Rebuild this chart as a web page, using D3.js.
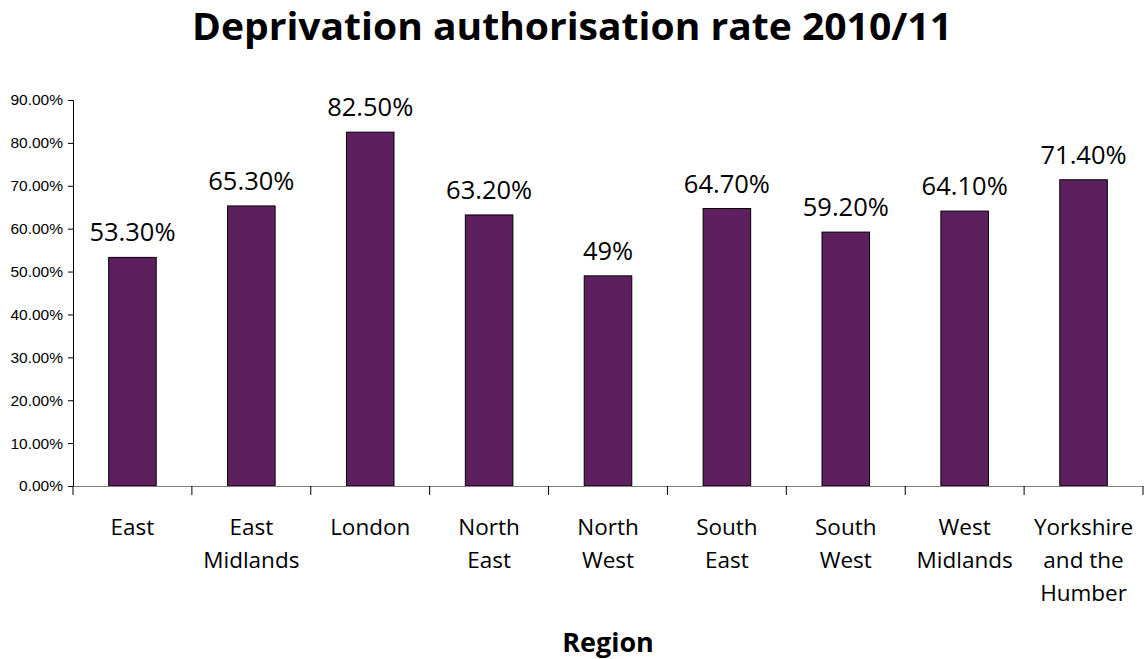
<!DOCTYPE html>
<html><head><meta charset="utf-8">
<script src="https://cdn.jsdelivr.net/npm/d3@7/dist/d3.min.js"></script>
<style>body{margin:0;background:#fff}svg{display:block}</style>
</head><body>
<svg id="c" width="1145" height="659"></svg>
<script>
const categories = [["East"],["East","Midlands"],["London"],["North","East"],["North","West"],["South","East"],["South","West"],["West","Midlands"],["Yorkshire","and the","Humber"]];
const values = [53.3, 65.3, 82.5, 63.2, 49, 64.7, 59.2, 64.1, 71.4];
const valueLabels = ["53.30%","65.30%","82.50%","63.20%","49%","64.70%","59.20%","64.10%","71.40%"];
const yTicks = [0,10,20,30,40,50,60,70,80,90];
const title = "Deprivation authorisation rate 2010/11";
const xTitle = "Region";

const svg = d3.select("#c");
const pL = 73, pR = 1143, pT = 100, pB = 486;
const keys = categories.map((d,i)=>i);
const x = d3.scaleBand().domain(keys).range([pL,pR]).paddingInner(0.6).paddingOuter(0.3);
const y = d3.scaleLinear().domain([0,90]).range([pB,pT]);

// y axis
const ya = svg.append("g").attr("transform",`translate(${pL},0)`)
  .call(d3.axisLeft(y).tickValues(yTicks).tickSize(5).tickPadding(5).tickFormat(d=>d.toFixed(2)+"%"));
ya.select(".domain").attr("stroke","#000");
ya.selectAll(".tick line").attr("stroke","#000");
ya.selectAll("text").attr("font-family","'Liberation Sans', Arial, sans-serif").attr("font-size",15.5).attr("fill","#000");

// bars
svg.append("g").selectAll("rect").data(values).join("rect")
  .attr("x",(d,i)=>x(i)).attr("width",x.bandwidth())
  .attr("y",d=>y(d)).attr("height",d=>y(0)-y(d))
  .attr("fill","#5e1f5e").attr("stroke","#000").attr("stroke-width",1);

// x axis
const xb = d3.scaleBand().domain(keys).range([pL,pR]);
svg.append("line").attr("x1",pL).attr("x2",pR).attr("y1",pB+0.5).attr("y2",pB+0.5).attr("stroke","#808080");
svg.append("g").selectAll("line").data(d3.range(categories.length+1)).join("line")
  .attr("x1",i=>pL+i*xb.step()).attr("x2",i=>pL+i*xb.step())
  .attr("y1",pB).attr("y2",pB+9).attr("stroke","#000");

// category labels
const lab = svg.append("g").selectAll("text").data(categories).join("text")
  .attr("text-anchor","middle").attr("font-family","'Open Sans', sans-serif").attr("font-size",22.5).attr("fill","#000")
  .attr("x",(d,i)=>x(i)+x.bandwidth()/2).attr("y",535);
lab.selectAll("tspan").data(d=>d).join("tspan")
  .attr("x",function(){return this.parentNode.getAttribute("x");})
  .attr("dy",(d,j)=>j===0?0:33).text(d=>d);

// value labels
svg.append("g").selectAll("text").data(values).join("text")
  .attr("text-anchor","middle").attr("font-family","'Open Sans', sans-serif").attr("font-size",25.5).attr("fill","#000")
  .attr("x",(d,i)=>x(i)+x.bandwidth()/2).attr("y",d=>y(d)-16)
  .text((d,i)=>valueLabels[i]);

// titles
svg.append("text").attr("x",572).attr("y",40).attr("text-anchor","middle")
  .attr("font-family","'Open Sans', sans-serif").attr("font-weight","bold").attr("font-size",37)
  .attr("textLength",760).attr("lengthAdjust","spacingAndGlyphs").text(title);
svg.append("text").attr("x",(pL+pR)/2).attr("y",652).attr("text-anchor","middle")
  .attr("font-family","'Open Sans', sans-serif").attr("font-weight","bold").attr("font-size",27).text(xTitle);
</script>
</body></html>
